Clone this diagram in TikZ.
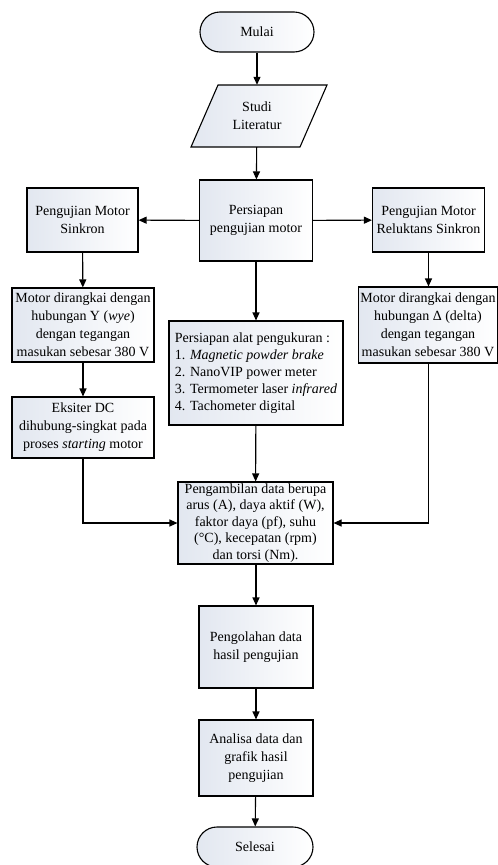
\documentclass[tikz,border=0pt]{standalone}
\usepackage{fontspec}
\setmainfont{Liberation Serif}
\usetikzlibrary{arrows.meta,shapes.geometric}
\definecolor{shadeL}{RGB}{226,231,240}
\begin{document}
\begin{tikzpicture}[x=1pt,y=-1pt,
  txt/.style={align=center, inner sep=1pt, font=\fontsize{14}{18}\selectfont},
  box/.style={txt, draw, line width=1.1pt, left color=shadeL, right color=white},
  term/.style={box, rounded corners=20pt},
  arr/.style={line width=1.1pt, -{Triangle[length=8pt,width=7pt]}},
  ln/.style={line width=1.1pt}]
\useasboundingbox (0,0) rectangle (498,865);

% start
\node[term, minimum width=114pt, minimum height=40pt] (mulai) at (257,32) {Mulai};

% parallelogram Studi Literatur
\coordinate (p1) at (218,85);
\coordinate (p2) at (327,85);
\coordinate (p3) at (300,147);
\coordinate (p4) at (191,147);
\path[draw, line width=1.1pt, left color=shadeL, right color=white] (p1) -- (p2) -- (p3) -- (p4) -- cycle;
\node[txt, minimum width=108pt, minimum height=62pt, inner sep=0pt] (studi) at (257,116) {Studi\\Literatur};

\node[box, minimum width=113pt, minimum height=81pt] (prep) at (256,220.5) {Persiapan\\pengujian motor};
\node[box, minimum width=111pt, minimum height=64pt] (sinkron) at (82.5,220) {Pengujian Motor\\Sinkron};
\node[box, minimum width=112pt, minimum height=64pt] (reluk) at (428.5,220) {Pengujian Motor\\Reluktans Sinkron};

\node[box, minimum width=142pt, minimum height=74pt] (motorY) at (83,325) {Motor dirangkai dengan\\hubungan Y (\textit{wye})\\dengan tegangan\\masukan sebesar 380 V};
\node[box, minimum width=139pt, minimum height=76pt] (motorD) at (428,325) {Motor dirangkai dengan\\hubungan Δ (delta)\\dengan tegangan\\masukan sebesar 380 V};

\node[box, align=left, minimum width=174pt, minimum height=104pt, font=\fontsize{14}{17}\selectfont] (alat) at (256,373)
  {Persiapan alat pengukuran :\\1. \textit{Magnetic powder brake}\\2. NanoVIP power meter\\3. Termometer laser \textit{infrared}\\4. Tachometer digital};

\node[box, minimum width=142pt, minimum height=61pt] (eksiter) at (83,427.5) {Eksiter DC\\dihubung-singkat pada\\proses \textit{starting} motor};

\node[box, minimum width=155pt, minimum height=82pt, font=\fontsize{14}{16.5}\selectfont] (ambil) at (255.5,523)
  {Pengambilan data berupa\\arus (A), daya aktif (W),\\faktor daya (pf), suhu\\(°C), kecepatan (rpm)\\dan torsi (Nm).};

\node[box, minimum width=114pt, minimum height=82pt] (olah) at (256,647) {Pengolahan data\\hasil pengujian};
\node[box, minimum width=114pt, minimum height=76pt] (analisa) at (256,758) {Analisa data dan\\grafik hasil\\pengujian};
\node[term, minimum width=116pt, minimum height=40pt] (selesai) at (255,847) {Selesai};

% connectors
\draw[arr] (mulai) -- (studi);
\draw[arr] (studi) -- (prep);
\draw[arr] (prep) -- (sinkron);
\draw[arr] (prep) -- (reluk);
\draw[arr] (sinkron) -- (motorY);
\draw[arr] (motorY) -- (eksiter);
\draw[arr] (reluk.south) -- (reluk.south |- motorD.north);
\draw[arr] (prep) -- (alat);
\draw[arr] (alat) -- (ambil);
\draw[arr] (eksiter.south) |- (ambil.west);
\draw[arr] (motorD.south -| reluk.south) |- (ambil.east);
\draw[arr] (ambil.south -| olah.north) -- (olah.north);
\draw[arr] (olah) -- (analisa);
\draw[arr] (analisa) -- (selesai);
\end{tikzpicture}
\end{document}
